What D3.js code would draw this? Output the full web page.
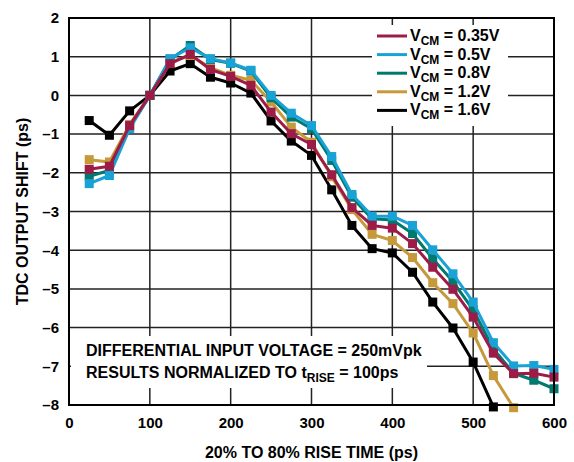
<!DOCTYPE html>
<html>
<head>
<meta charset="utf-8">
<script src="https://cdn.jsdelivr.net/npm/d3@7"></script>
<style>
body { margin: 0; background: #fff; }
svg { font-family: "Liberation Sans", Arial, sans-serif; font-weight: bold; }
</style>
</head>
<body>
<script>
"use strict";
const riseTimes = [25, 50, 75, 100, 125, 150, 175, 200, 225, 250, 275, 300, 325, 350, 375, 400, 425, 450, 475, 500, 525, 550, 575, 600];
const vcm035 = [-1.91, -1.83, -0.78, 0, 0.82, 1.06, 0.67, 0.49, 0.26, -0.43, -0.99, -1.27, -2.05, -2.9, -3.36, -3.43, -3.83, -4.44, -5.01, -5.73, -6.66, -7.19, -7.18, -7.28];
const vcm05 = [-2.28, -2.07, -0.86, 0, 0.95, 1.23, 0.95, 0.84, 0.65, 0.0, -0.46, -0.78, -1.58, -2.56, -3.12, -3.12, -3.36, -3.99, -4.61, -5.34, -6.39, -6.99, -6.98, -7.08];
const vcm08 = [-2.09, -1.94, -0.82, 0, 0.93, 1.29, 0.93, 0.83, 0.63, -0.06, -0.56, -0.86, -1.68, -2.63, -3.19, -3.22, -3.57, -4.22, -4.81, -5.54, -6.55, -7.18, -7.36, -7.58];
const vcm12 = [-1.66, -1.72, -0.75, 0, 0.86, 1.03, 0.72, 0.52, 0.39, -0.17, -0.82, -1.21, -2.1, -2.95, -3.59, -3.75, -4.19, -4.84, -5.38, -6.14, -7.24, -8.07];
const vcm16 = [-0.65, -1.03, -0.4, 0, 0.63, 0.82, 0.47, 0.32, 0.06, -0.66, -1.18, -1.55, -2.44, -3.36, -3.96, -4.07, -4.57, -5.34, -6.01, -6.89, -8.05];
const xTicks = [0, 100, 200, 300, 400, 500, 600];
const yTicks = [2, 1, 0, -1, -2, -3, -4, -5, -6, -7, -8];

const series = [
	{name: "0.35V", values: vcm035, color: "#9c1c47"},
	{name: "0.5V", values: vcm05, color: "#19a2d6"},
	{name: "0.8V", values: vcm08, color: "#00796f"},
	{name: "1.2V", values: vcm12, color: "#c6993a"},
	{name: "1.6V", values: vcm16, color: "#000000"},
];
const drawOrder = [4, 3, 2, 1, 0];

const width = 574, height = 462;
const margin = {left: 69, right: 20, top: 18, bottom: 57};
const x = d3.scaleLinear().domain([0, 600]).range([margin.left, width - margin.right]);
const y = d3.scaleLinear().domain([-8, 2]).range([height - margin.bottom, margin.top]);
const font = "Liberation Sans, Arial, sans-serif";

const svg = d3.select("body").append("svg").attr("width", width).attr("height", height);

// grid
svg.append("g").selectAll("line").data(xTicks.slice(1, -1)).enter().append("line")
	.attr("x1", d => x(d)).attr("x2", d => x(d))
	.attr("y1", y(2)).attr("y2", y(-8))
	.attr("stroke", "#222").attr("stroke-width", 1.5);
svg.append("g").selectAll("line").data(yTicks.slice(1, -1)).enter().append("line")
	.attr("x1", x(0)).attr("x2", x(600))
	.attr("y1", d => y(d)).attr("y2", d => y(d))
	.attr("stroke", "#222").attr("stroke-width", 1.5);

// white boxes behind legend and note
svg.append("rect").attr("x", 372).attr("y", 25).attr("width", 136).attr("height", 101).attr("fill", "#fff");
svg.append("rect").attr("x", 71).attr("y", 336).attr("width", 356).attr("height", 52).attr("fill", "#fff");

// series
const line = d3.line().x(d => x(d[0])).y(d => y(d[1]));
const plot = svg.append("g");
drawOrder.forEach(i => {
	const s = series[i];
	const pts = s.values.map((v, j) => [riseTimes[j], v]);
	plot.append("path").attr("d", line(pts)).attr("fill", "none")
		.attr("stroke", s.color).attr("stroke-width", 3).attr("stroke-linejoin", "round");
	plot.selectAll(null).data(pts).enter().append("rect")
		.attr("x", d => x(d[0]) - 4.5).attr("y", d => y(d[1]) - 4.5)
		.attr("width", 9).attr("height", 9).attr("fill", s.color);
});

// frame
svg.append("rect").attr("x", x(0)).attr("y", y(2)).attr("width", x(600) - x(0)).attr("height", y(-8) - y(2))
	.attr("fill", "none").attr("stroke", "#000").attr("stroke-width", 2);

// axes
const xAxis = d3.axisBottom(x).tickValues(xTicks).tickSize(0).tickPadding(12).tickFormat(d3.format("d"));
const yAxis = d3.axisLeft(y).tickValues(yTicks).tickSize(0).tickPadding(10).tickFormat(d => d < 0 ? "\u2013" + (-d) : d);
svg.append("g").attr("transform", "translate(0," + y(-8) + ")").call(xAxis)
	.call(g => g.select(".domain").remove())
	.selectAll("text").attr("font-size", 15).attr("font-weight", "bold").attr("fill", "#000").attr("font-family", font);
svg.append("g").attr("transform", "translate(" + x(0) + ",0)").call(yAxis)
	.call(g => g.select(".domain").remove())
	.selectAll("text").attr("font-size", 15).attr("font-weight", "bold").attr("fill", "#000").attr("font-family", font);

// axis titles
svg.append("text").attr("x", (x(0) + x(600)) / 2).attr("y", 458).attr("text-anchor", "middle")
	.attr("font-size", 16).text("20% TO 80% RISE TIME (ps)");
svg.append("text").attr("transform", "translate(28," + (y(-3)) + ") rotate(-90)").attr("text-anchor", "middle")
	.attr("font-size", 16).text("TDC OUTPUT SHIFT (ps)");

// legend
const legend = svg.append("g");
series.forEach((s, i) => {
	const ly = 36 + i * 18.6;
	legend.append("line").attr("x1", 377).attr("x2", 407).attr("y1", ly).attr("y2", ly)
		.attr("stroke", s.color).attr("stroke-width", 3);
	const t = legend.append("text").attr("x", 410).attr("y", ly + 5).attr("font-size", 16);
	t.append("tspan").text("V");
	t.append("tspan").attr("font-size", 12).attr("dy", 4).text("CM");
	t.append("tspan").attr("dy", -4).text(" = " + s.name);
});

// note
svg.append("text").attr("x", 86).attr("y", 356).attr("font-size", 16).text("DIFFERENTIAL INPUT VOLTAGE = 250mVpk");
const note2 = svg.append("text").attr("x", 86).attr("y", 378).attr("font-size", 16);
note2.append("tspan").text("RESULTS NORMALIZED TO t");
note2.append("tspan").attr("font-size", 12).attr("dy", 4).text("RISE");
note2.append("tspan").attr("dy", -4).text(" = 100ps");
</script>
</body>
</html>
